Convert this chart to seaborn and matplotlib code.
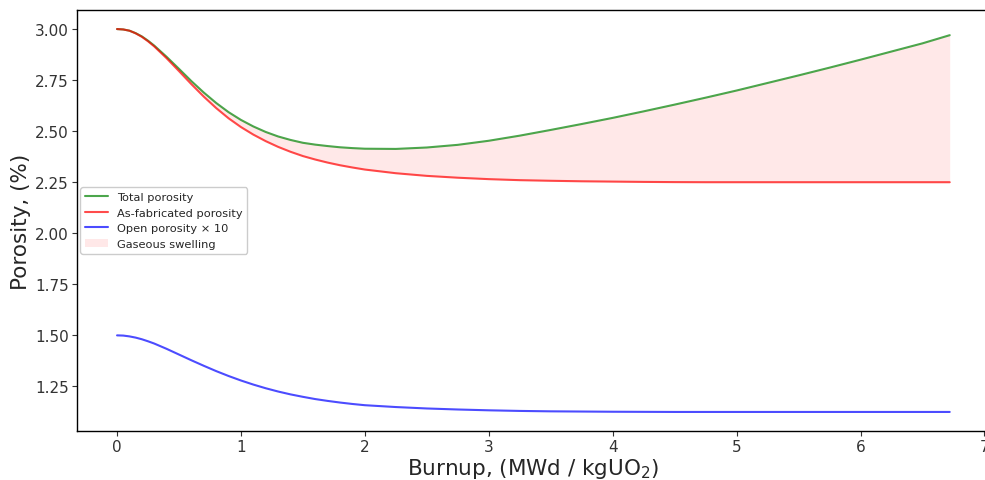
import numpy as np
import pandas as pd
import matplotlib
matplotlib.use("Agg")
import matplotlib.pyplot as plt
import seaborn as sns

# ---------------- data ----------------
burnup = [0.0, 0.05, 0.1, 0.15, 0.2, 0.25, 0.3, 0.4, 0.5, 0.6, 0.7, 0.8, 0.9,
          1.0, 1.1, 1.2, 1.3, 1.4, 1.5, 1.6, 1.7, 1.8, 1.9,
          2.0, 2.25, 2.5, 2.75, 3.0, 3.25, 3.5, 3.75, 4.0, 4.25,
          4.5, 4.75, 5.0, 5.25, 5.5, 5.75, 6.0, 6.25, 6.5, 6.72]

total_porosity = [3.000, 2.998, 2.992, 2.980, 2.964, 2.943, 2.919, 2.864, 2.805, 2.745, 2.689, 2.638, 2.593,
                  2.555, 2.523, 2.496, 2.474, 2.457, 2.443, 2.434, 2.427, 2.421, 2.417,
                  2.414, 2.413, 2.420, 2.433, 2.453, 2.478, 2.506, 2.535, 2.565, 2.597,
                  2.630, 2.664, 2.699, 2.736, 2.773, 2.811, 2.850, 2.890, 2.930, 2.970]

asfab_porosity = [3.000, 2.998, 2.992, 2.979, 2.962, 2.940, 2.915, 2.857, 2.794, 2.730, 2.669, 2.613, 2.563,
                  2.520, 2.483, 2.451, 2.423, 2.399, 2.378, 2.361, 2.346, 2.333, 2.322,
                  2.312, 2.294, 2.281, 2.272, 2.265, 2.260, 2.257, 2.2545, 2.253, 2.2515,
                  2.2505, 2.250, 2.250, 2.250, 2.250, 2.250, 2.250, 2.250, 2.250, 2.250]

open_porosity_x10 = [1.500, 1.499, 1.495, 1.489, 1.481, 1.471, 1.460, 1.434, 1.406, 1.378, 1.351, 1.325, 1.301,
                     1.279, 1.259, 1.241, 1.225, 1.211, 1.199, 1.188, 1.179, 1.171, 1.164,
                     1.158, 1.149, 1.142, 1.137, 1.133, 1.130, 1.128, 1.127, 1.126, 1.1255,
                     1.125, 1.125, 1.125, 1.125, 1.125, 1.125, 1.125, 1.125, 1.125, 1.125]

df = pd.DataFrame({"burnup": burnup,
                   "total": total_porosity,
                   "asfab": asfab_porosity,
                   "open": open_porosity_x10})

# ---------------- plot ----------------
sns.set_style("white")
plt.rcParams["font.family"] = ["DejaVu Sans"]

fig = plt.figure(figsize=(9.85, 4.81), dpi=100)
ax = fig.add_axes([0.0782, 0.102, 0.927, 0.875])

sns.lineplot(data=df, x="burnup", y="total", color="green", alpha=0.7,
             linewidth=1.5, label="Total porosity", ax=ax)
sns.lineplot(data=df, x="burnup", y="asfab", color="red", alpha=0.7,
             linewidth=1.5, label="As-fabricated porosity", ax=ax)
sns.lineplot(data=df, x="burnup", y="open", color="blue", alpha=0.7,
             linewidth=1.5, label="Open porosity × 10", ax=ax)
ax.fill_between(df["burnup"], df["asfab"], df["total"], color="red",
                alpha=0.09, linewidth=0, label="Gaseous swelling")

ax.set_xlim(-0.323, 7.046)
ax.set_ylim(1.032, 3.093)
ax.set_xticks(range(0, 8))
ax.set_yticks(np.arange(1.25, 3.01, 0.25))
ax.yaxis.set_major_formatter(matplotlib.ticker.FormatStrFormatter("%.2f"))
ax.tick_params(axis="both", labelsize=11, direction="out", length=3.5, pad=2.5,
               width=0.8, colors="#333333", labelcolor="#333333", left=True, bottom=True)
for sp in ax.spines.values():
    sp.set_color("black")
    sp.set_linewidth(1.0)

ax.set_xlabel("Burnup, (MWd / kgUO$_2$)", fontsize=15.5, labelpad=1)
ax.set_ylabel("Porosity, (%)", fontsize=15.5, labelpad=3)
ax.legend(loc="center left", fontsize=8.2, borderaxespad=0.3, framealpha=1)

plt.savefig("out.png", dpi=100)
